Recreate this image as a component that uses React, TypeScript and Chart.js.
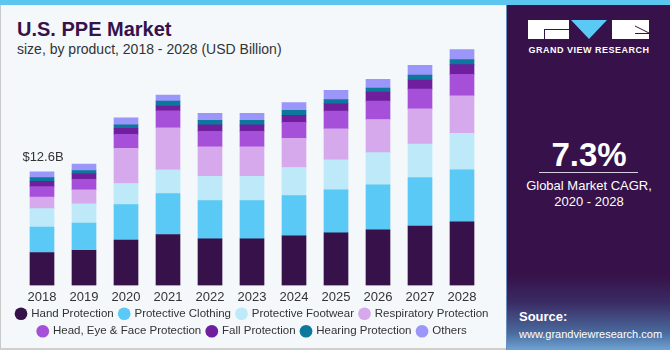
import React, { useEffect, useRef } from 'react';
import { Chart, registerables } from 'chart.js';

Chart.register(...registerables);

const years = ['2018', '2019', '2020', '2021', '2022', '2023', '2024', '2025', '2026', '2027', '2028'];
const handProtection = [3.65, 3.9, 5.02, 5.65, 5.16, 5.16, 5.5, 5.83, 6.17, 6.58, 7.06];
const protectiveClothing = [2.82, 3.01, 3.94, 4.53, 4.24, 4.24, 4.46, 4.76, 4.98, 5.39, 5.76];
const protectiveFootwear = [2.04, 2.15, 2.34, 2.64, 2.71, 2.71, 3.12, 3.35, 3.57, 3.72, 4.05];
const respiratoryProtection = [1.3, 1.53, 3.9, 4.65, 3.27, 3.27, 3.23, 3.42, 3.68, 3.9, 4.16];
const headEyeFaceProtection = [1.15, 1.19, 1.56, 1.9, 1.71, 1.71, 1.78, 1.97, 2.04, 2.19, 2.38];
const fallProtection = [0.59, 0.59, 0.67, 0.59, 0.71, 0.71, 0.78, 0.82, 1.0, 1.0, 1.08];
const hearingProtection = [0.41, 0.37, 0.37, 0.48, 0.52, 0.52, 0.56, 0.45, 0.45, 0.56, 0.56];
const others = [0.64, 0.71, 0.78, 0.67, 0.78, 0.78, 0.86, 1.04, 0.97, 1.08, 1.12];

const seriesNames = [
  'Hand Protection',
  'Protective Clothing',
  'Protective Footwear',
  'Respiratory Protection',
  'Head, Eye & Face Protection',
  'Fall Protection',
  'Hearing Protection',
  'Others',
];
const seriesColors = ['#37114a', '#5bc9f5', '#bde9f9', '#d5a9ec', '#a64fd8', '#6f1f9e', '#0b789c', '#9b96fa'];
const firstYearLabel = '$12.6B';
const yMax = 27;

const FONT = '"Liberation Sans", Arial, sans-serif';

export default function App() {
  const ref = useRef<HTMLCanvasElement>(null);

  useEffect(() => {
    document.body.style.margin = '0';
    const canvas = ref.current;
    if (!canvas) return;
    const seriesValues = [
      handProtection,
      protectiveClothing,
      protectiveFootwear,
      respiratoryProtection,
      headEyeFaceProtection,
      fallProtection,
      hearingProtection,
      others,
    ];
    const valueLabel = {
      id: 'valueLabel',
      afterDatasetsDraw(chart: any) {
        const meta = chart.getDatasetMeta(chart.data.datasets.length - 1);
        const el = meta.data[0];
        if (!el) return;
        const ctx = chart.ctx;
        ctx.save();
        ctx.font = `13px ${FONT}`;
        ctx.fillStyle = '#333333';
        ctx.textAlign = 'center';
        ctx.textBaseline = 'middle';
        ctx.fillText(firstYearLabel, el.x + 1, el.y - 14);
        ctx.restore();
      },
    };
    const chart = new Chart(canvas, {
      type: 'bar',
      data: {
        labels: years,
        datasets: seriesValues.map((vals, i) => ({
          label: seriesNames[i],
          data: vals,
          backgroundColor: seriesColors[i],
          borderWidth: 0,
          barThickness: 24,
        })),
      },
      options: {
        animation: false,
        responsive: true,
        maintainAspectRatio: false,
        layout: { padding: { top: 0, bottom: 0, left: 0, right: 0 } },
        scales: {
          x: {
            stacked: true,
            grid: { display: false, drawTicks: false },
            border: { display: false },
            ticks: { color: '#333333', font: { family: FONT, size: 13 }, padding: 4 },
            afterFit: (s: any) => {
              s.height = s.height - 7;
            },
          },
          y: {
            stacked: true,
            min: 0,
            max: yMax,
            display: true,
            grid: { display: false, drawTicks: false },
            border: { display: false },
            ticks: { display: false },
            afterFit: (s: any) => {
              s.width = 21;
            },
          },
          y2: {
            position: 'right',
            min: 0,
            max: yMax,
            display: true,
            grid: { display: false, drawTicks: false },
            border: { display: false },
            ticks: { display: false },
            afterFit: (s: any) => {
              s.width = 22;
            },
          },
        },
        plugins: {
          legend: {
            position: 'bottom',
            labels: {
              usePointStyle: true,
              pointStyle: 'circle',
              boxWidth: 9,
              boxHeight: 9,
              padding: 6,
              color: '#333333',
              font: { family: FONT, size: 11.5 },
              generateLabels: (c: any) => {
                const base = Chart.defaults.plugins.legend.labels.generateLabels(c);
                return base.map((l: any) => ({ ...l, lineWidth: 0 }));
              },
            },
          },
          tooltip: { enabled: false },
        },
      },
      plugins: [valueLabel],
    } as any);
    return () => chart.destroy();
  }, []);

  return (
    <div
      style={{
        position: 'fixed',
        left: 0,
        top: 0,
        width: 670,
        height: 350,
        background: '#f4f8fb',
        overflow: 'hidden',
        fontFamily: FONT,
      }}
    >
      <div style={{ position: 'absolute', left: 0, top: 0, width: 670, height: 5, background: '#5bc6ef' }} />
      <div style={{ position: 'absolute', left: 0, top: 5, width: 1, height: 345, background: '#c9c9c9' }} />
      <div style={{ position: 'absolute', left: 0, top: 348, width: 506, height: 2, background: '#cfcfcf' }} />
      <div
        style={{
          position: 'absolute',
          left: 17,
          top: 17,
          fontSize: 20,
          fontWeight: 'bold',
          color: '#37114a',
          whiteSpace: 'nowrap',
          lineHeight: '24px',
        }}
      >
        U.S. PPE Market
      </div>
      <div
        style={{
          position: 'absolute',
          left: 17,
          top: 40,
          fontSize: 14,
          color: '#333333',
          whiteSpace: 'nowrap',
          lineHeight: '18px',
        }}
      >
        size, by product, 2018 - 2028 (USD Billion)
      </div>
      <div style={{ position: 'absolute', left: 0, top: 42, width: 505, height: 305 }}>
        <canvas ref={ref} />
      </div>
      <div
        style={{
          position: 'absolute',
          left: 506,
          top: 5,
          width: 164,
          height: 345,
          background:
            'linear-gradient(to bottom, #37114a 0%, #37114a 78%, #3a2a62 86%, #4a6a9e 95%, #6ea3d3 100%)',
          borderLeft: '1px solid #6a8fbf',
          boxSizing: 'border-box',
        }}
      >
        <svg width={164} height={60} style={{ position: 'absolute', left: 0, top: 0 }}>
          <rect x={21} y={15} width={41} height={19} fill="#ffffff" />
          <line x1={37} y1={24.5} x2={62} y2={24.5} stroke="#37114a" strokeWidth={1} />
          <line x1={37.5} y1={24} x2={37.5} y2={34} stroke="#37114a" strokeWidth={1} />
          <polygon points="64,15 100,15 82,34" fill="#5bc9f5" />
          <rect x={105} y={15} width={37} height={19} fill="#ffffff" />
          <line x1={128} y1={21} x2={142} y2={28} stroke="#37114a" strokeWidth={1} />
          <line x1={128} y1={28.5} x2={142} y2={28.5} stroke="#37114a" strokeWidth={1} />
        </svg>
        <div
          style={{
            position: 'absolute',
            left: 0,
            top: 40,
            width: 164,
            textAlign: 'center',
            color: '#ffffff',
            fontSize: 9,
            fontWeight: 'bold',
            letterSpacing: 0.5,
            whiteSpace: 'nowrap',
          }}
        >
          GRAND VIEW RESEARCH
        </div>
        <div
          style={{
            position: 'absolute',
            left: 0,
            top: 130,
            width: 164,
            textAlign: 'center',
            color: '#ffffff',
            fontSize: 33,
            fontWeight: 'bold',
            lineHeight: '40px',
          }}
        >
          7.3%
        </div>
        <div style={{ position: 'absolute', left: 32, top: 167, width: 99, height: 1, background: '#d8d0e0' }} />
        <div
          style={{
            position: 'absolute',
            left: 0,
            top: 173,
            width: 164,
            textAlign: 'center',
            color: '#ffffff',
            fontSize: 13,
            lineHeight: '16px',
          }}
        >
          Global Market CAGR,
          <br />
          2020 - 2028
        </div>
        <div
          style={{
            position: 'absolute',
            left: 12,
            top: 304,
            color: '#ffffff',
            fontSize: 13,
            fontWeight: 'bold',
            lineHeight: '16px',
          }}
        >
          Source:
        </div>
        <div
          style={{
            position: 'absolute',
            left: 12,
            top: 321,
            color: '#ffffff',
            fontSize: 11,
            lineHeight: '16px',
            whiteSpace: 'nowrap',
          }}
        >
          www.grandviewresearch.com
        </div>
      </div>
    </div>
  );
}
